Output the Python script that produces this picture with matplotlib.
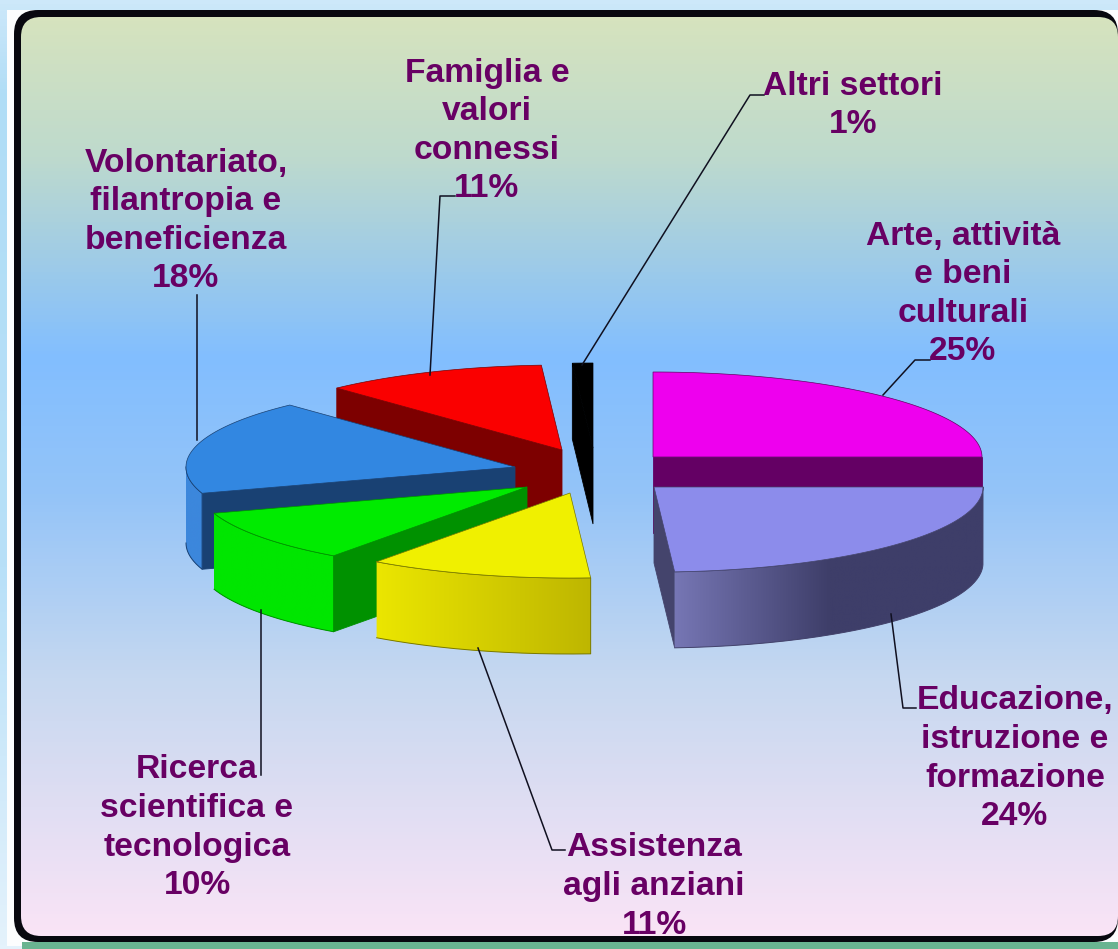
import numpy as np
import matplotlib
matplotlib.use("Agg")
import matplotlib.pyplot as plt
from matplotlib.patches import Polygon, FancyBboxPatch, Rectangle
from matplotlib.colors import LinearSegmentedColormap

# ---- data ----
categories = ["Arte, attività\ne beni\nculturali", "Educazione,\nistruzione e\nformazione",
              "Assistenza\nagli anziani", "Ricerca\nscientifica e\ntecnologica",
              "Volontariato,\nfilantropia e\nbeneficienza", "Famiglia e\nvalori\nconnessi", "Altri settori"]
shares = [25, 24, 11, 10, 18, 11, 1]

# ---- layout / style ----
W, H = 1118, 949
RX, RY, DEPTH = 329, 85, 76
centers = [(653, 457), (654, 487), (570, 493), (527, 487), (515, 467), (562, 450), (593, 448)]
draw_order = [6, 5, 4, 3, 2, 0, 1]
rgb = lambda *c: tuple(v / 255 for v in c)
top_c = [rgb(238, 0, 238), rgb(140, 140, 235), rgb(240, 240, 0), rgb(0, 235, 0), rgb(50, 135, 225), rgb(250, 0, 0), rgb(0, 0, 0)]
wall_c = [rgb(100, 0, 100), rgb(68, 68, 108), rgb(120, 120, 0), rgb(0, 145, 0), rgb(25, 65, 115), rgb(125, 0, 0), rgb(0, 0, 0)]
rim_c = [
    [rgb(100, 0, 100)] * 2,
    [rgb(118, 118, 180), rgb(62, 62, 105), rgb(62, 62, 105)],
    [rgb(235, 230, 0), rgb(190, 182, 0)],
    [rgb(0, 230, 0)] * 2,
    [rgb(60, 135, 220)] * 2,
    [rgb(125, 0, 0)] * 2,
    [rgb(0, 0, 0)] * 2,
]
label_pos = [(963, 236), (1015, 701), (654, 848), (197, 770), (186, 163), (487, 73), (853, 86)]
leaders = [
    [(930, 360), (915, 360), (883, 395)],
    [(916, 708), (903, 708), (891, 614)],
    [(565, 850), (552, 850), (478, 648)],
    [(261, 775), (261, 610)],
    [(197, 295), (197, 440)],
    [(455, 196), (440, 196), (430, 375)],
    [(764, 95), (750, 95), (582, 365)],
]
text_color = rgb(104, 0, 100)
LINE = 38.6

fig = plt.figure(figsize=(W / 100, H / 100), dpi=100)
ax = fig.add_axes([0, 0, 1, 1])
ax.set_xlim(0, W)
ax.set_ylim(H, 0)
ax.axis("off")

# page backdrop
page = LinearSegmentedColormap.from_list("page", [
    (0.0, rgb(205, 232, 250)), (0.1, rgb(176, 221, 246)), (0.6, rgb(184, 224, 248)), (1.0, rgb(228, 242, 252))])
ax.imshow(np.linspace(0, 1, 256)[:, None], cmap=page, extent=(0, W, H, 0), aspect="auto", zorder=0)
ax.add_patch(Rectangle((7, 10), W - 7, 936, fc=rgb(252, 253, 254), ec="none", zorder=0.1))
ax.add_patch(Rectangle((22, 942), W - 22, 7, fc=rgb(105, 180, 145), ec="none", zorder=0.2))

# panel: border on the top, left and bottom, open on the right
ax.add_patch(FancyBboxPatch((38, 34), W - 14 - 48, 884, boxstyle="round,pad=24,rounding_size=24",
                            fc="#08080f", ec="none", zorder=1))
panel = FancyBboxPatch((41, 37), W - 21 - 40, 879, boxstyle="round,pad=20,rounding_size=20",
                       fc="none", ec="none", zorder=1)
ax.add_patch(panel)
bg = LinearSegmentedColormap.from_list("bg", [
    (0.0, rgb(214, 227, 190)), (0.15, rgb(190, 218, 205)), (0.37, rgb(130, 190, 255)),
    (0.52, rgb(148, 196, 248)), (0.72, rgb(198, 216, 240)), (1.0, rgb(250, 228, 246))])
im = ax.imshow(np.linspace(0, 1, 256)[:, None], cmap=bg, extent=(0, W, 936, 17), aspect="auto", zorder=1.5)
im.set_clip_path(panel)
ax.set_xlim(0, W)
ax.set_ylim(H, 0)


def pt(c, a, dz=0):
    a = np.radians(a)
    return c[0] + RX * np.cos(a), c[1] - RY * np.sin(a) + dz


z = 2.0
start = 90.0
spans = []
for s in shares:
    spans.append((start, start - s * 3.6))
    start -= s * 3.6

for i in draw_order:
    a1, a2 = spans[i]
    c = centers[i]
    # cut faces turned toward the viewer
    for a, normal in ((a1, a1 + 90), (a2, a2 - 90)):
        if np.sin(np.radians(normal)) < -1e-6:
            p = pt(c, a)
            poly = [c, p, (p[0], p[1] + DEPTH), (c[0], c[1] + DEPTH)]
            ax.add_patch(Polygon(poly, fc=wall_c[i], ec=wall_c[i], lw=0.6, zorder=z))
            z += 0.01
    # curved outer face: only the part between -180 and 0 degrees faces the viewer
    lo, hi = max(a2, -180), min(a1, 0)
    if hi > lo:
        t = np.linspace(lo, hi, 80)
        up = [pt(c, v) for v in t]
        dn = [pt(c, v, DEPTH) for v in t[::-1]]
        poly = Polygon(up + dn, fc=rim_c[i][0], ec="none", zorder=z)
        ax.add_patch(poly)
        xs = [q[0] for q in up]
        ys = [q[1] for q in up + dn]
        cmap = LinearSegmentedColormap.from_list(f"r{i}", rim_c[i])
        g = ax.imshow(np.linspace(0, 1, 256)[None, :], cmap=cmap,
                      extent=(min(xs), max(xs), max(ys), min(ys)), aspect="auto", zorder=z + 0.001)
        g.set_clip_path(poly)
        ax.plot(xs + xs[::-1], [q[1] for q in up] + [q[1] for q in dn], color=wall_c[i], lw=0.7, zorder=z + 0.002)
        z += 0.01
    # top face
    t = np.linspace(a1, a2, 80)
    ax.add_patch(Polygon([c] + [pt(c, v) for v in t], fc=top_c[i], ec=wall_c[i], lw=0.5, zorder=z))
    z += 0.01

ax.set_xlim(0, W)
ax.set_ylim(H, 0)

# leader lines and labels
for path in leaders:
    ax.plot([q[0] for q in path], [q[1] for q in path], color="#101020", lw=1.1, zorder=8)

for name, share, (x, y) in zip(categories, shares, label_pos):
    for k, line in enumerate(name.split("\n") + [f"{share}%"]):
        ax.text(x, y + k * LINE, line, ha="center", va="center", fontsize=24.2,
                fontweight="bold", family="Liberation Sans", color=text_color, zorder=9)

fig.savefig("out.png", dpi=100)
